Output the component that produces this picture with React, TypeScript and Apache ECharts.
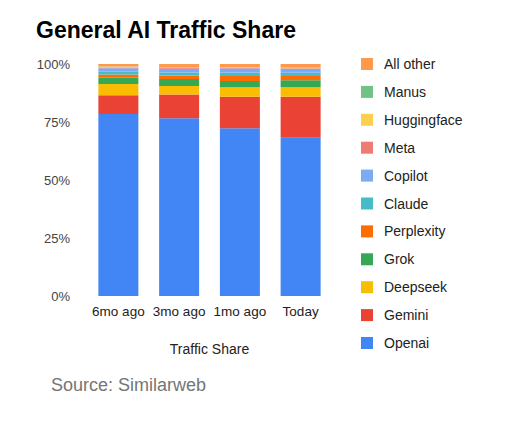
import React, { useEffect, useRef } from "react";
import * as echarts from "echarts";

const categories = ["6mo ago", "3mo ago", "1mo ago", "Today"];
const seriesNames = ["Openai", "Gemini", "Deepseek", "Grok", "Perplexity", "Claude", "Copilot", "Meta", "Huggingface", "Manus", "All other"];
const openai = [78.4, 76.6, 72.3, 68.2];
const gemini = [8.1, 10.3, 13.6, 17.7];
const deepseek = [4.9, 3.6, 4.1, 4.1];
const grok = [2.7, 3.0, 2.7, 3.0];
const perplexity = [1.4, 1.5, 2.1, 1.8];
const claude = [1.2, 1.3, 1.5, 1.4];
const copilot = [1.5, 1.7, 1.8, 1.7];
const meta = [0.3, 0.3, 0.3, 0.3];
const huggingface = [0.3, 0.2, 0.2, 0.2];
const manus = [0.1, 0.2, 0.1, 0.2];
const allOther = [1.1, 1.3, 1.3, 1.4];
const seriesValues = [openai, gemini, deepseek, grok, perplexity, claude, copilot, meta, huggingface, manus, allOther];
const colors = ["#4285F4", "#EA4335", "#FBBC04", "#34A853", "#FF6D01", "#46BDC6", "#7BAAF7", "#F07B72", "#FCD04F", "#71C287", "#FF994D"];
const yTicks = [0, 25, 50, 75, 100];

export default function App() {
  const ref = useRef<HTMLDivElement>(null);
  useEffect(() => {
    if (!ref.current) return;
    const chart = echarts.init(ref.current, null, { renderer: "svg" });
    const font = "Liberation Sans, Arial, sans-serif";
    chart.setOption({
      animation: false,
      backgroundColor: "#ffffff",
      textStyle: { fontFamily: font },
      title: [
        {
          text: "General AI Traffic Share",
          left: 36,
          top: 18,
          padding: 0,
          textStyle: { fontSize: 23, fontWeight: "bold", color: "#000000", fontFamily: font },
        },
        {
          text: "Source: Similarweb",
          left: 51,
          top: 376,
          padding: 0,
          textStyle: { fontSize: 18, fontWeight: "normal", color: "#757575", fontFamily: font },
        },
      ],
      legend: {
        orient: "vertical",
        left: 356,
        top: 52,
        itemWidth: 12,
        itemHeight: 12,
        itemGap: 13.9,
        icon: "rect",
        data: [...seriesNames].reverse(),
        textStyle: { fontSize: 14, color: "#222222", fontFamily: font, padding: [0, 0, 0, 6] },
      },
      grid: { left: 88, right: 187, top: 64, bottom: 133 },
      xAxis: {
        type: "category",
        data: categories,
        name: "Traffic Share",
        nameLocation: "middle",
        nameGap: 46,
        nameTextStyle: { fontSize: 14, color: "#222222", fontFamily: font },
        axisLine: { show: false },
        axisTick: { show: false },
        axisLabel: { fontSize: 13.5, color: "#222222", margin: 8, interval: 0, hideOverlap: false, fontFamily: font },
      },
      yAxis: {
        type: "value",
        min: yTicks[0],
        max: yTicks[yTicks.length - 1],
        interval: 25,
        splitLine: { show: false },
        axisLine: { show: false },
        axisTick: { show: false },
        axisLabel: { fontSize: 13, color: "#444444", margin: 18, formatter: "{value}%", fontFamily: font },
      },
      series: seriesNames.map((name, i) => ({
        name,
        type: "bar",
        stack: "total",
        barWidth: 40,
        data: seriesValues[i],
        itemStyle: { color: colors[i] },
      })),
    });
    return () => chart.dispose();
  }, []);
  return <div ref={ref} style={{ width: 518, height: 429, position: "absolute", left: 0, top: 0 }} />;
}
